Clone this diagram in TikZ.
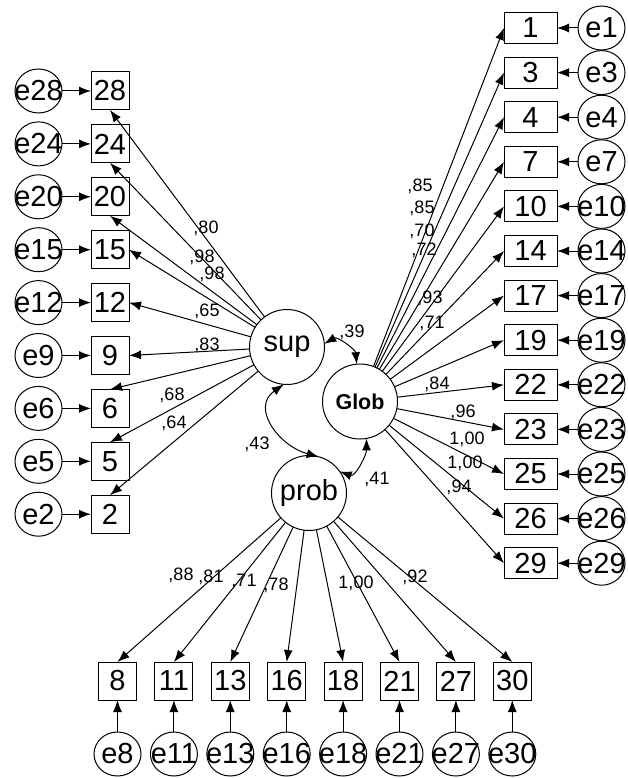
\documentclass[tikz,border=0pt]{standalone}
\usepackage{fontspec}
\setmainfont{Liberation Sans}
\usepackage{mathtools}
\usepackage{tikz}
\usetikzlibrary{positioning}
\usetikzlibrary{bayesnet}
\usetikzlibrary{shapes.geometric}
\usetikzlibrary{arrows.meta}

\begin{document}
\begin{tikzpicture}[x=1pt, y=1pt,
    item/.style={rectangle, draw, line width=1pt, minimum size=38pt, inner sep=0pt, outer sep=0pt, font=\fontsize{29}{29}\selectfont},
    ritem/.style={item, minimum width=53pt, minimum height=31pt},
    err/.style={ellipse, draw, line width=1pt, minimum width=47pt, minimum height=44pt, inner sep=0pt, outer sep=0pt, font=\fontsize{29}{29}\selectfont},
    lat/.style={latent, line width=1pt, minimum size=75pt, outer sep=0pt, font=\fontsize{29}{29}\selectfont},
    ld/.style={line width=1pt, -{Latex[length=12pt, width=9pt]}},
    cov/.style={draw, line width=1pt, {Latex[length=12pt, width=9pt]}-{Latex[length=12pt, width=9pt]}},
    coef/.style={font=\fontsize{18}{18}\selectfont, inner sep=0pt}]

    \useasboundingbox (0,0) rectangle (627,-778);

    % Define nodes
    \node[lat]                      (sup)  at (287,-347)   {sup};
    \node[lat, font=\bfseries\fontsize{21.5}{21.5}\selectfont] (glob) at (360,-401.5) {Glob};
    \node[lat]                      (prob) at (309,-493)   {prob};

    % left items
    \node[item]                     (b28) at (110,-91) {28};
    \node[item, below=14.9pt of b28] (b24) {24};
    \node[item, below=14.9pt of b24] (b20) {20};
    \node[item, below=14.9pt of b20] (b15) {15};
    \node[item, below=14.9pt of b15] (b12) {12};
    \node[item, below=14.9pt of b12] (b9)  {9};
    \node[item, below=14.9pt of b9]  (b6)  {6};
    \node[item, below=14.9pt of b6]  (b5)  {5};
    \node[item, below=14.9pt of b5]  (b2)  {2};
    \node[err, left=29pt of b28] (e28) {\clap{e28}};
    \node[err, left=29pt of b24] (e24) {\clap{e24}};
    \node[err, left=29pt of b20] (e20) {\clap{e20}};
    \node[err, left=29pt of b15] (e15) {\clap{e15}};
    \node[err, left=29pt of b12] (e12) {\clap{e12}};
    \node[err, left=29pt of b9]  (e9)  {\clap{e9}};
    \node[err, left=29pt of b6]  (e6)  {\clap{e6}};
    \node[err, left=29pt of b5]  (e5)  {\clap{e5}};
    \node[err, left=29pt of b2]  (e2)  {\clap{e2}};

    % right items
    \node[ritem]                     (b1)  at (530.5,-28) {1};
    \node[ritem, below=13.6pt of b1]  (b3)  {3};
    \node[ritem, below=13.6pt of b3]  (b4)  {4};
    \node[ritem, below=13.6pt of b4]  (b7)  {7};
    \node[ritem, below=13.6pt of b7]  (b10) {10};
    \node[ritem, below=13.6pt of b10] (b14) {14};
    \node[ritem, below=13.6pt of b14] (b17) {17};
    \node[ritem, below=13.6pt of b17] (b19) {19};
    \node[ritem, below=13.6pt of b19] (b22) {22};
    \node[ritem, below=13.6pt of b22] (b23) {23};
    \node[ritem, below=13.6pt of b23] (b25) {25};
    \node[ritem, below=13.6pt of b25] (b26) {26};
    \node[ritem, below=13.6pt of b26] (b29) {29};
    \node[err, right=21pt of b1]  (e1)  {\clap{e1}};
    \node[err, right=21pt of b3]  (e3)  {\clap{e3}};
    \node[err, right=21pt of b4]  (e4)  {\clap{e4}};
    \node[err, right=21pt of b7]  (e7)  {\clap{e7}};
    \node[err, right=21pt of b10] (e10) {\clap{e10}};
    \node[err, right=21pt of b14] (e14) {\clap{e14}};
    \node[err, right=21pt of b17] (e17) {\clap{e17}};
    \node[err, right=21pt of b19] (e19) {\clap{e19}};
    \node[err, right=21pt of b22] (e22) {\clap{e22}};
    \node[err, right=21pt of b23] (e23) {\clap{e23}};
    \node[err, right=21pt of b25] (e25) {\clap{e25}};
    \node[err, right=21pt of b26] (e26) {\clap{e26}};
    \node[err, right=21pt of b29] (e29) {\clap{e29}};

    % bottom items
    \node[item]                     (b8)  at (117.5,-681) {8};
    \node[item, right=18.4pt of b8]  (b11) {11};
    \node[item, right=18.4pt of b11] (b13) {13};
    \node[item, right=18.4pt of b13] (b16) {16};
    \node[item, right=18.4pt of b16] (b18) {18};
    \node[item, right=18.4pt of b18] (b21) {21};
    \node[item, right=18.4pt of b21] (b27) {27};
    \node[item, right=18.4pt of b27] (b30) {30};
    \node[err, below=32pt of b8]  (e8)  {\clap{e8}};
    \node[err, below=32pt of b11] (e11) {\clap{e11}};
    \node[err, below=32pt of b13] (e13) {\clap{e13}};
    \node[err, below=32pt of b16] (e16) {\clap{e16}};
    \node[err, below=32pt of b18] (e18) {\clap{e18}};
    \node[err, below=32pt of b21] (e21) {\clap{e21}};
    \node[err, below=32pt of b27] (e27) {\clap{e27}};
    \node[err, below=32pt of b30] (e30) {\clap{e30}};

    % Coefficients
    \node[coef] (l1) at (206,-228) {,80};
    \node[coef] (l2) at (202,-257) {,98};
    \node[coef] (l3) at (212,-274) {,98};
    \node[coef] (l4) at (207,-311) {,65};
    \node[coef] (l5) at (207,-345) {,83};
    \node[coef] (l6) at (172,-395) {,68};
    \node[coef] (l7) at (174,-423) {,64};
    \node[coef] (g1) at (420,-186) {,85};
    \node[coef] (g2) at (422,-208) {,85};
    \node[coef] (g3) at (422,-231) {,70};
    \node[coef] (g4) at (424,-250) {,72};
    \node[coef] (g5) at (430,-298) {,93};
    \node[coef] (g6) at (432,-323) {,71};
    \node[coef] (g7) at (437,-384) {,84};
    \node[coef] (g8) at (463,-412) {,96};
    \node[coef] (g9) at (467,-439) {1,00};
    \node[coef] (g10) at (465,-463) {1,00};
    \node[coef] (g11) at (459,-487) {,94};
    \node[coef] (p1) at (181,-575) {,88};
    \node[coef] (p2) at (211,-577) {,81};
    \node[coef] (p3) at (244,-581) {,71};
    \node[coef] (p4) at (276,-585) {,78};
    \node[coef] (p5) at (356,-583) {1,00};
    \node[coef] (p6) at (415,-577) {,92};
    \node[coef] (r39) at (352,-332) {,39};
    \node[coef] (r43) at (257,-444) {,43};
    \node[coef] (r41) at (377,-479) {,41};

    % Connect the nodes
    \edge[ld] {sup} {b28.south, b24.south, b20.south};
    \edge[ld] {sup} {b15.east, b12.east, b9.east};
    \edge[ld] {sup} {b6.north, b5.north, b2.north};
    \edge[ld] {glob} {b1.west, b3.west, b4.west, b7.west, b10.west, b14.west, b17.west};
    \edge[ld] {glob} {b19.west, b22.west, b23.west, b25.west, b26.west, b29.west};
    \edge[ld] {prob} {b8.north, b11.north, b13.north, b16.north, b18.north, b21.north, b27.north, b30.north};
    \edge[ld] {e28}{b28}; \edge[ld] {e24}{b24}; \edge[ld] {e20}{b20};
    \edge[ld] {e15}{b15}; \edge[ld] {e12}{b12}; \edge[ld] {e9}{b9};
    \edge[ld] {e6}{b6};   \edge[ld] {e5}{b5};   \edge[ld] {e2}{b2};
    \edge[ld] {e1}{b1};   \edge[ld] {e3}{b3};   \edge[ld] {e4}{b4};
    \edge[ld] {e7}{b7};   \edge[ld] {e10}{b10}; \edge[ld] {e14}{b14};
    \edge[ld] {e17}{b17}; \edge[ld] {e19}{b19}; \edge[ld] {e22}{b22};
    \edge[ld] {e23}{b23}; \edge[ld] {e25}{b25}; \edge[ld] {e26}{b26};
    \edge[ld] {e29}{b29};
    \edge[ld] {e8}{b8};   \edge[ld] {e11}{b11}; \edge[ld] {e13}{b13};
    \edge[ld] {e16}{b16}; \edge[ld] {e18}{b18}; \edge[ld] {e21}{b21};
    \edge[ld] {e27}{b27}; \edge[ld] {e30}{b30};
    \draw[cov] (sup.5) to[out=30, in=95] (glob.95);
    \draw[cov] (sup.265) to[out=215, in=165, looseness=1.3] (prob.75);
    \draw[cov] (glob.280) to[out=270, in=-20] (prob.35);
\end{tikzpicture}
\end{document}
